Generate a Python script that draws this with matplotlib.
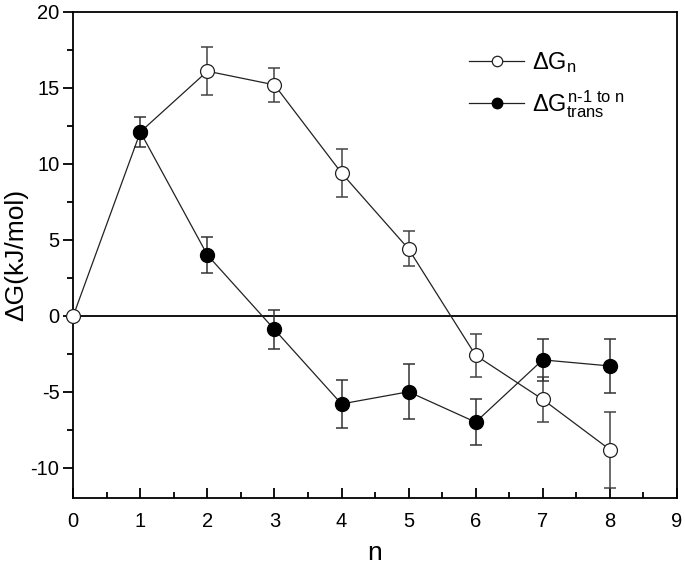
import matplotlib
matplotlib.use('Agg')
import matplotlib.pyplot as plt
from matplotlib.ticker import MultipleLocator

plt.rcParams['font.family'] = ['Liberation Sans', 'DejaVu Sans']
plt.rcParams['mathtext.fontset'] = 'custom'
plt.rcParams['mathtext.rm'] = 'Liberation Sans'
plt.rcParams['mathtext.it'] = 'Liberation Sans'
plt.rcParams['mathtext.bf'] = 'Liberation Sans:bold'
plt.rcParams['axes.unicode_minus'] = False

# данные: ΔG_n (открытые кружки)
n_open = [0, 1, 2, 3, 4, 5, 6, 7, 8]
dg_open = [0, 12.1, 16.1, 15.2, 9.4, 4.4, -2.6, -5.5, -8.8]
err_open = [0, 0, 1.6, 1.1, 1.6, 1.15, 1.4, 1.5, 2.5]

# данные: ΔG_trans (закрашенные кружки)
n_fill = [1, 2, 3, 4, 5, 6, 7, 8]
dg_fill = [12.1, 4.0, -0.9, -5.8, -5.0, -7.0, -2.9, -3.3]
err_fill = [1.0, 1.2, 1.3, 1.6, 1.8, 1.5, 1.4, 1.8]

fig = plt.figure(figsize=(6.85, 5.68), dpi=100)
ax = fig.add_axes([0.107, 0.123, 0.881, 0.856])

ax.axhline(0, color='black', lw=1.3, zorder=1)

ax.errorbar(n_open, dg_open, yerr=err_open, fmt='none', ecolor='#444444',
            elinewidth=1.1, capsize=4.5, capthick=1.1, zorder=2)
ax.errorbar(n_fill, dg_fill, yerr=err_fill, fmt='none', ecolor='#333333',
            elinewidth=1.1, capsize=4.5, capthick=1.1, zorder=2)

ax.plot(n_open, dg_open, '-o', color='#222222', lw=0.9, markersize=10,
        markerfacecolor='white', markeredgecolor='#222222', markeredgewidth=0.9,
        label=r'$\Delta G_n$', zorder=3, clip_on=False)
ax.plot(n_fill, dg_fill, '-o', color='#222222', lw=0.9, markersize=10,
        markerfacecolor='black', markeredgecolor='black',
        label=r'$\Delta G^{\text{n-1 to n}}_{\text{trans}}$', zorder=3)

ax.set_xlim(0, 9)
ax.set_ylim(-12, 20)
ax.xaxis.set_major_locator(MultipleLocator(1))
ax.xaxis.set_minor_locator(MultipleLocator(0.5))
ax.yaxis.set_major_locator(MultipleLocator(5))
ax.yaxis.set_minor_locator(MultipleLocator(2.5))

ax.tick_params(axis='x', which='both', direction='in', top=False, labelsize=14.5, pad=10)
ax.tick_params(axis='x', which='major', length=7, width=1.3)
ax.tick_params(axis='x', which='minor', length=4, width=1.3)
ax.tick_params(axis='y', which='both', direction='out', right=False, labelsize=14.5, pad=3)
ax.tick_params(axis='y', which='major', length=7, width=1.3)
ax.tick_params(axis='y', which='minor', length=4, width=1.3)
for s in ax.spines.values():
    s.set_linewidth(1.3)

ax.set_xlabel('n', fontsize=19, va='center')
ax.set_ylabel('ΔG(kJ/mol)', fontsize=19, va='center')
ax.xaxis.set_label_coords(0.5, -0.112)
ax.yaxis.set_label_coords(-0.094, 0.5)

ax.legend(loc='upper right', bbox_to_anchor=(0.949, 0.965), frameon=False,
          fontsize=17, handlelength=2.3, labelspacing=0.55, markerscale=0.75,
          handletextpad=0.35)

fig.savefig('out.png', dpi=100)
